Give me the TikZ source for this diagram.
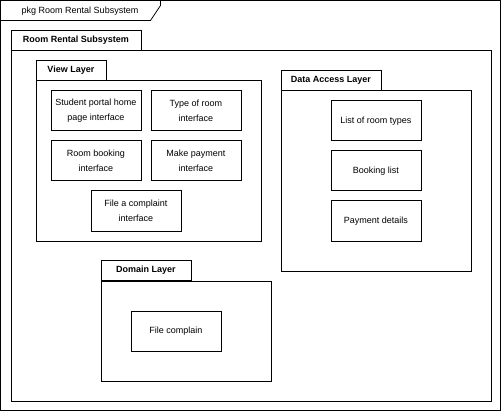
\documentclass[tikz,border=0pt]{standalone}
\usepackage{fontspec}
\setmainfont{Liberation Sans}
\begin{document}
\begin{tikzpicture}[x=1pt, y=-1pt, line width=0.8pt, font=\fontsize{9}{15}\selectfont]
    \tikzset{part/.style={draw, rectangle, inner sep=0pt, minimum width=90pt, minimum height=40pt, align=center, anchor=north west},
             pkgbody/.style={draw, rectangle, inner sep=0pt, anchor=north west},
             pkgtab/.style={draw, rectangle, inner sep=0pt, minimum height=20pt, anchor=south west, font=\fontsize{9}{15}\selectfont\bfseries}}
  \useasboundingbox (0,0) rectangle (502,411);

  % outer frame with its tab
  \draw (0.5,0.5) rectangle (500.5,410.5);
  \draw (0.5,20.5) -- (150.5,20.5) -- (160.5,5.5) -- (160.5,0.5);
  \node (frametitle) at (80,11) {pkg Room Rental Subsystem};

  % subsystem package
  \node[pkgbody, minimum width=480pt, minimum height=350pt] (subsystem) at (10.5,50.5) {};
  \node[pkgtab, minimum width=130pt] (subsystemtab) at (subsystem.north west) {Room Rental Subsystem};

  % view layer
  \node[pkgbody, minimum width=225pt, minimum height=160pt] (view) at (35.5,80.5) {};
  \node[pkgtab, minimum width=70pt] (viewtab) at (view.north west) {View Layer};
  \node[part] (portal)    at (50.5,90.5)   {Student portal home\\page interface};
  \node[part] (roomtype)  at (150.5,90.5)  {Type of room\\interface};
  \node[part] (bookingui) at (50.5,140.5)  {Room booking\\interface};
  \node[part] (paymentui) at (150.5,140.5) {Make payment\\interface};
  \node[part] (complaint) at (90.5,190.5)  {File a complaint\\interface};

  % data access layer
  \node[pkgbody, minimum width=190pt, minimum height=180pt] (data) at (280.5,90.5) {};
  \node[pkgtab, minimum width=100pt] (datatab) at (data.north west) {Data Access Layer};
  \foreach \name/\txt [count=\i] in {types/List of room types, bookings/Booking list, payments/Payment details} {
    \node[part] (\name) at (330.5, 50.5+50*\i) {\txt};
  }

  % domain layer
  \node[pkgbody, minimum width=170pt, minimum height=100pt] (domain) at (100.5,280.5) {};
  \node[pkgtab, minimum width=90pt] (domaintab) at (domain.north west) {Domain Layer};
  \node[part] (filecomplain) at (130.5,310.5) {File complain};
\end{tikzpicture}
\end{document}
